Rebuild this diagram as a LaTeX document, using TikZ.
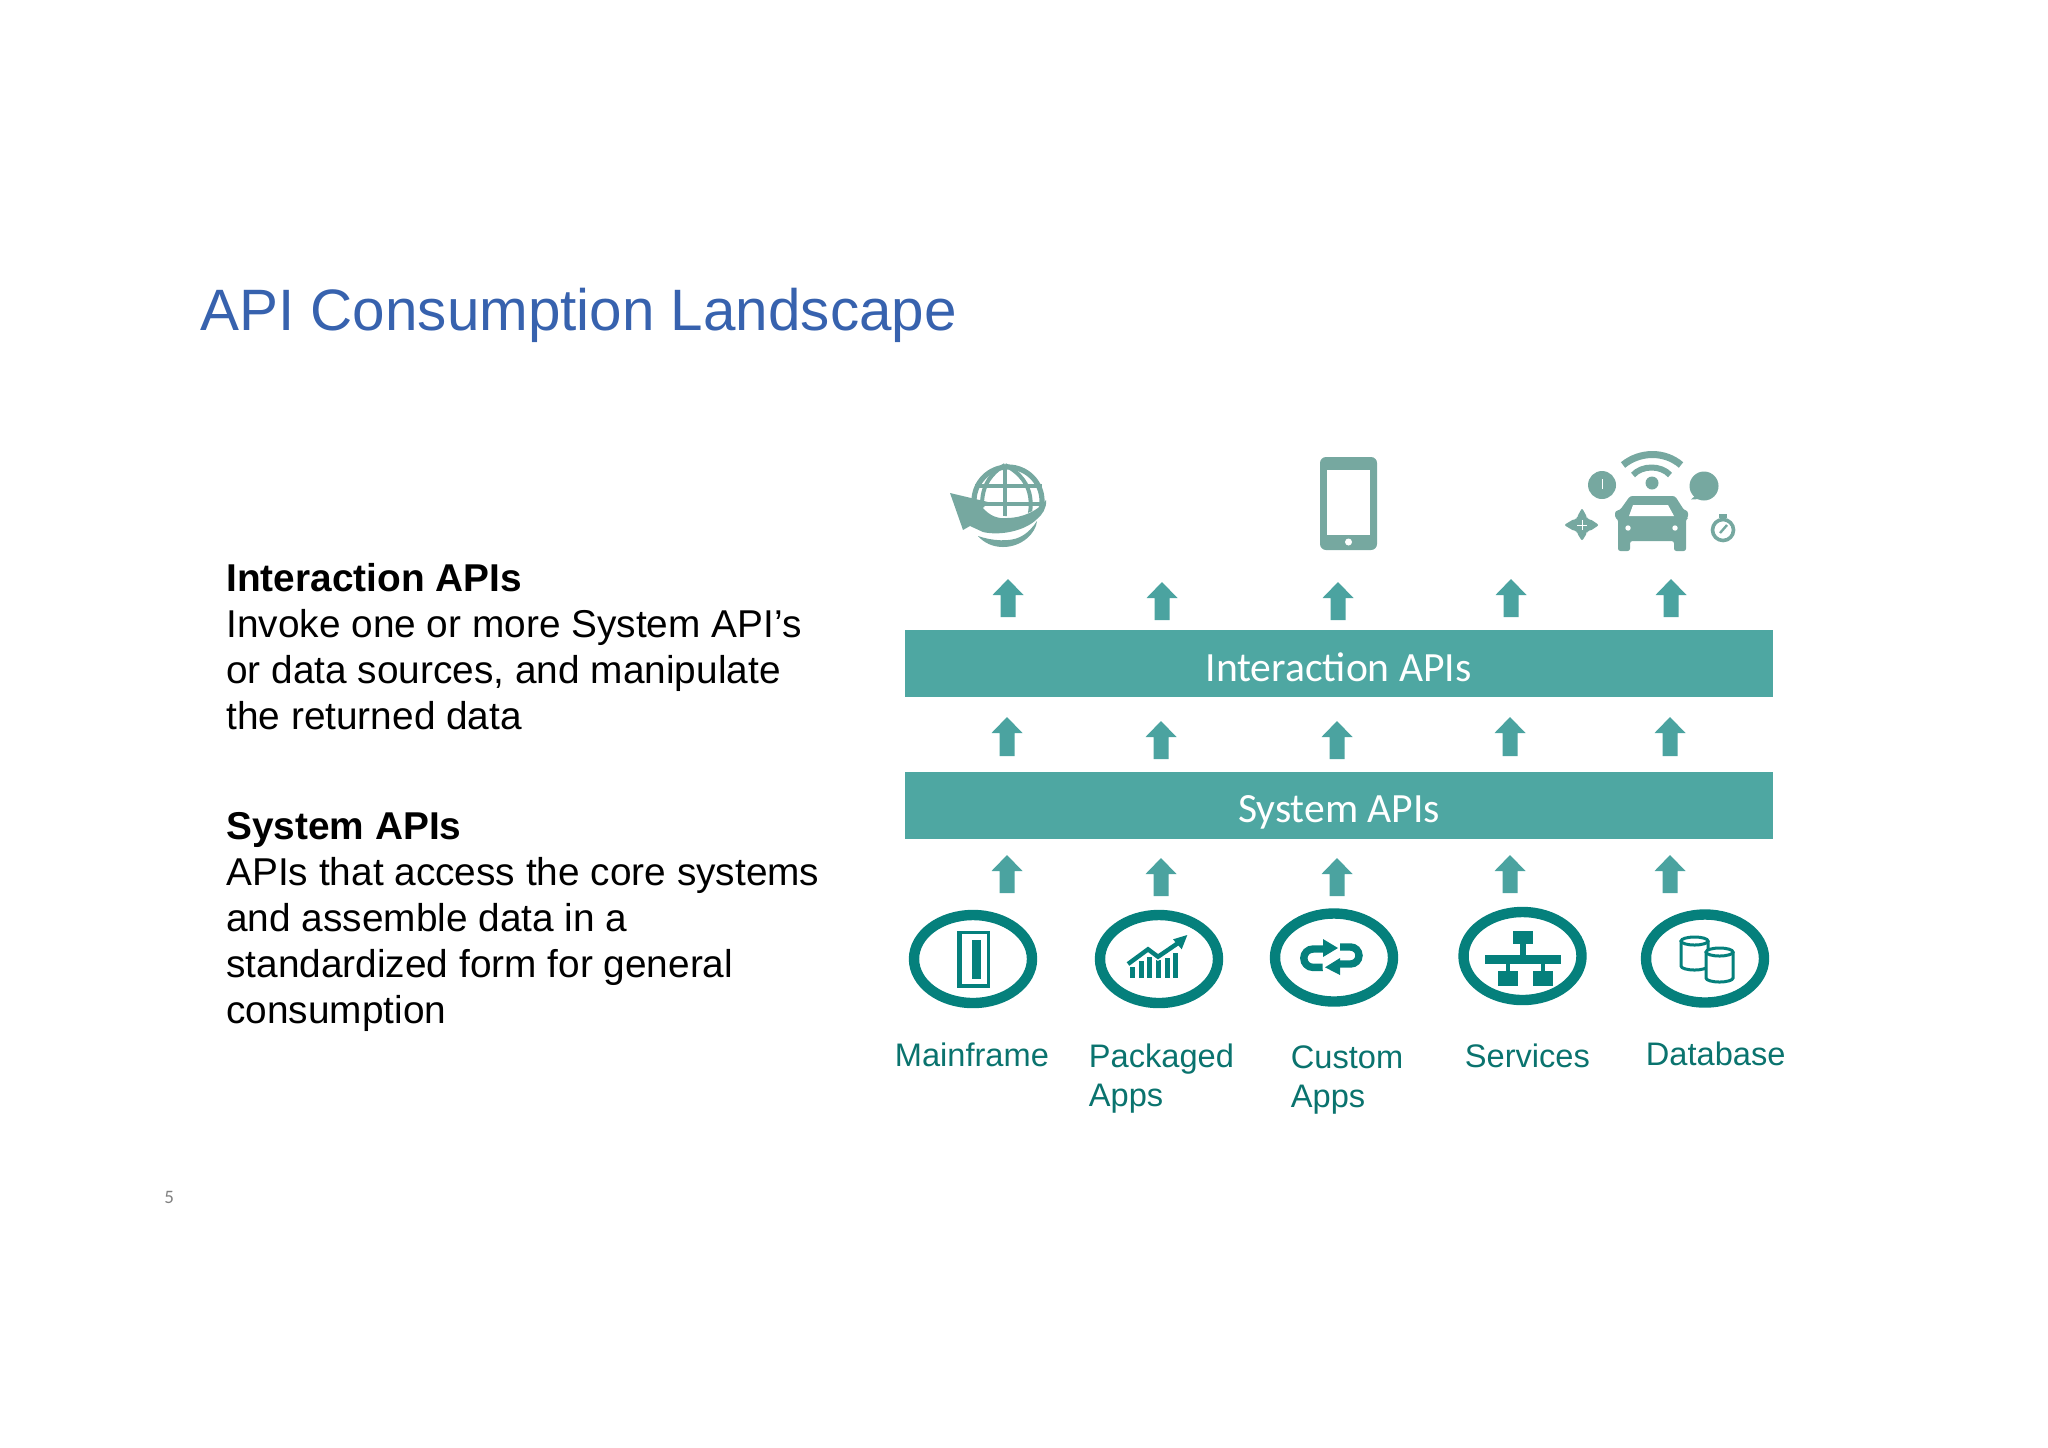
\documentclass[tikz,border=0pt]{standalone}
\usepackage{fontspec}
\setmainfont{Liberation Sans}
\newfontfamily\carl{Carlito}
\usetikzlibrary{shapes.geometric}
\definecolor{bar}{HTML}{4EA7A2}
\definecolor{arr}{HTML}{4BA3A0}
\definecolor{teal}{HTML}{05807C}
\definecolor{tealtx}{HTML}{0A736E}
\definecolor{gico}{HTML}{76A8A0}
\definecolor{ttl}{HTML}{3762AE}
\tikzset{
 barbox/.style={fill=bar,draw=none,minimum width=434pt,minimum height=33.5pt,inner sep=0},
 bartext/.style={inner sep=0,text=white,font=\carl\fontsize{20.8}{24}\selectfont},
 ring/.style={draw=teal,line width=5.2pt,ellipse,minimum width=59pt,minimum height=44pt,inner sep=0},
 lab/.style={text=tealtx,font=\fontsize{16.3}{19.6}\selectfont,anchor=base west,align=flush left,inner sep=0,text width=80pt},
 body/.style={anchor=base west,align=flush left,inner sep=0,text width=330pt,font=\fontsize{19.4}{23}\selectfont},
}
\newcommand{\uparr}[3]{\fill[arr] (#1,#2) -- ++(15.5,16) -- ++(-8,0) -- (#1+7.5,#3) -- (#1-7.5,#3) -- (#1-7.5,#2+16) -- (#1-15.5,#2+16) -- cycle;}
\begin{document}
\begin{tikzpicture}[x=0.5pt,y=-0.5pt]
\useasboundingbox (0,0) rectangle (2048,1447);
\node[anchor=base west,inner sep=0,text=ttl,font=\fontsize{29.2}{32}\selectfont] (title) at (200,330) {API Consumption Landscape};
\node[body] (t1) at (226,591.5) {\textbf{Interaction APIs}\\Invoke one or more System API’s\\or data sources, and manipulate\\the returned data};
\node[body] (t2) at (226,839.5) {\textbf{System APIs}\\APIs that access the core systems\\and assemble data in a\\standardized form for general\\consumption};
\node[anchor=base west,inner sep=0,text=gray,font=\carl\fontsize{9.5}{11}\selectfont] (pg) at (164,1203) {5};
\node[barbox] (ia) at (1338.5,663.5) {};
\node[bartext] (iat) at (1338.5,667) {Interaction APIs};
\node[barbox] (sa) at (1339,805) {};
\node[bartext] (sat) at (1339,812) {System APIs};
\foreach \x/\a/\b in {1008/579/617,1162/582/620,1338/582/620,1511/579/617,1671/579/617,
 1007/717/756,1161/721/759,1337/721/759,1510/717/756,1670/717/756,
 1007/855/893,1161/858/896,1337/858/896,1510/855/893,1670/855/893}{\uparr{\x}{\a}{\b}}
\node[ring] (r1) at (973,959) {};
\node[ring] (r2) at (1159,959) {};
\node[ring] (r3) at (1334,957.5) {};
\node[ring] (r4) at (1522.5,956) {};
\node[ring] (r5) at (1705,958.5) {};
\node[lab] (l1) at (894.5,1066) {Mainframe};
\node[lab] (l2) at (1088.5,1067) {Packaged\\Apps};
\node[lab] (l3) at (1290.5,1068.5) {Custom\\Apps};
\node[lab] (l4) at (1464.5,1067) {Services};
\node[lab] (l5) at (1645.5,1065.5) {Database};
% mainframe
\fill[teal] (957,931) rectangle (990,988);
\fill[white] (962,933.5) rectangle (987,984);
\fill[teal] (972,940) rectangle (981,979);
% packaged
\foreach \xa/\ya in {1130/967,1139/960.7,1147.3/957,1156/960,1164.7/958,1173.3/953}{\fill[teal] (\xa,\ya) rectangle (\xa+5,978.3);}
\draw[white,line width=3.4pt] (1124,967) -- (1148,949.3) -- (1158,956.7) -- (1184,939);
\draw[teal,line width=2.2pt] (1128,964) -- (1148,949.3) -- (1158,956.7) -- (1180,941.7);
\fill[teal] (1187.3,935) -- (1173,939.3) -- (1181.7,949.3) -- cycle;
% custom
\draw[teal,line width=3.7pt] (1323,949) -- (1313,949) arc[start angle=270,end angle=90,radius=9.2] -- (1322.7,967.3);
\fill[teal] (1323,939) -- (1338,948) -- (1323,957) -- cycle;
\draw[teal,line width=3.7pt] (1340,947) -- (1350.5,947) arc[start angle=-90,end angle=90,radius=8.5] -- (1340,964);
\fill[teal] (1340,958) -- (1325,967.3) -- (1340,975) -- cycle;
% services
\fill[teal] (1513,931) rectangle (1533,944);
\fill[teal] (1520,944) rectangle (1526,955);
\fill[teal] (1485,955) rectangle (1561,964);
\fill[teal] (1506,964) rectangle (1510,971);
\fill[teal] (1541,964) rectangle (1545,971);
\fill[teal] (1498,971) rectangle (1518,986);
\fill[teal] (1533,971) rectangle (1553,986);
% database
\draw[teal,line width=1.5pt,fill=white] (1681,941) -- (1681,966) arc[start angle=180,end angle=0,x radius=13.5,y radius=4] -- (1708,941);
\draw[teal,line width=1.5pt,fill=white] (1694.5,941) ellipse[x radius=13.5,y radius=4];
\draw[teal,line width=1.5pt,fill=white] (1706,952) -- (1706,978) arc[start angle=180,end angle=0,x radius=13.5,y radius=4] -- (1733,952);
\draw[teal,line width=1.5pt,fill=white] (1719.5,952) ellipse[x radius=13.5,y radius=4];
% phone
\fill[gico,rounded corners=3pt] (1320,457) rectangle (1377,550);
\fill[white] (1327,470) rectangle (1370,535);
\fill[white] (1348.5,542) circle[radius=3.5];
% globe
\begin{scope}
\clip (960,455) -- (1055,455) -- (1055,500) -- (1045,502) .. controls (1035,513) and (1015,518) .. (1005,516) .. controls (995,515) and (988,511) .. (983,506) -- (960,490) -- cycle;
\draw[gico,line width=2.6pt] (1008,501) circle[radius=34];
\draw[gico,line width=2pt] (1005,466) -- (1005,530);
\draw[gico,line width=2pt] (1005,465) .. controls (975,482) and (982,512) .. (985,522);
\draw[gico,line width=2pt] (1005,465) .. controls (1038,482) and (1032,512) .. (1026,527);
\draw[gico,line width=2pt] (975,486) -- (1042,486) (985,504) -- (1045,504);
\end{scope}
\fill[gico] (950,493) -- (988,502) -- (983,508) .. controls (990,516) and (998,519) .. (1007,518) .. controls (1022,518) and (1038,511) .. (1046,500) .. controls (1047,508) and (1042,515) .. (1037,519) .. controls (1025,531) and (1000,536) .. (983,532) -- (970,526) -- (963,530) -- cycle;
\fill[gico] (978,536) .. controls (992,541) and (1010,542) .. (1020,537) .. controls (1028,533) and (1033,527) .. (1037,521) .. controls (1036,533) and (1022,547) .. (1003,547) .. controls (993,547) and (984,543) .. (978,536) -- cycle;
% connected car
\fill[gico,rounded corners=1.2pt] (1630,496) -- (1675,496) -- (1684,510) -- (1688,511) -- (1688,518) -- (1686,519) -- (1686,551) -- (1674,551) -- (1674,541) -- (1630,541) -- (1630,551) -- (1618,551) -- (1618,519) -- (1615,518) -- (1615,511) -- (1620,510) -- cycle;
\fill[white] (1633,505) -- (1668,505) -- (1674,516) -- (1629,516) -- cycle;
\fill[white] (1628,528) circle[radius=2.7] (1675,528) circle[radius=2.7];
\fill[gico] (1652,483) ellipse[x radius=6.5,y radius=6.5];
\draw[gico,line width=3.5pt] (1623,465) .. controls (1640,451) and (1665,451) .. (1681,465);
\draw[gico,line width=3pt] (1633,475) .. controls (1642,465) and (1661,465) .. (1670,475);
\fill[gico] (1602,485) circle[radius=14];
\draw[white,line width=.5pt] (1602,479) -- (1602,489);
\fill[gico] (1704,486) circle[radius=14.5];
\fill[gico] (1696,495) -- (1691,499.5) -- (1700,499) -- cycle;
% pad
\fill[gico,rounded corners=1pt] (1564,525) -- (1574,519) -- (1577,519) -- (1577,517) -- (1582,508) -- (1587,517) -- (1587,519) -- (1590,519) -- (1599,525) -- (1590,531) -- (1587,531) -- (1587,533) -- (1582,541) -- (1577,533) -- (1577,531) -- (1574,531) -- cycle;
\draw[white,line width=.4pt] (1577,525) -- (1587,525) (1582,520) -- (1582,530);
% stopwatch
\draw[gico,line width=1.8pt] (1723,530) circle[radius=10.5];
\fill[gico] (1719,514) rectangle (1727,518);
\fill[gico] (1721.5,517) rectangle (1724.5,520);
\draw[gico,line width=1.2pt] (1720,533) -- (1727,525);
\end{tikzpicture}
\end{document}
